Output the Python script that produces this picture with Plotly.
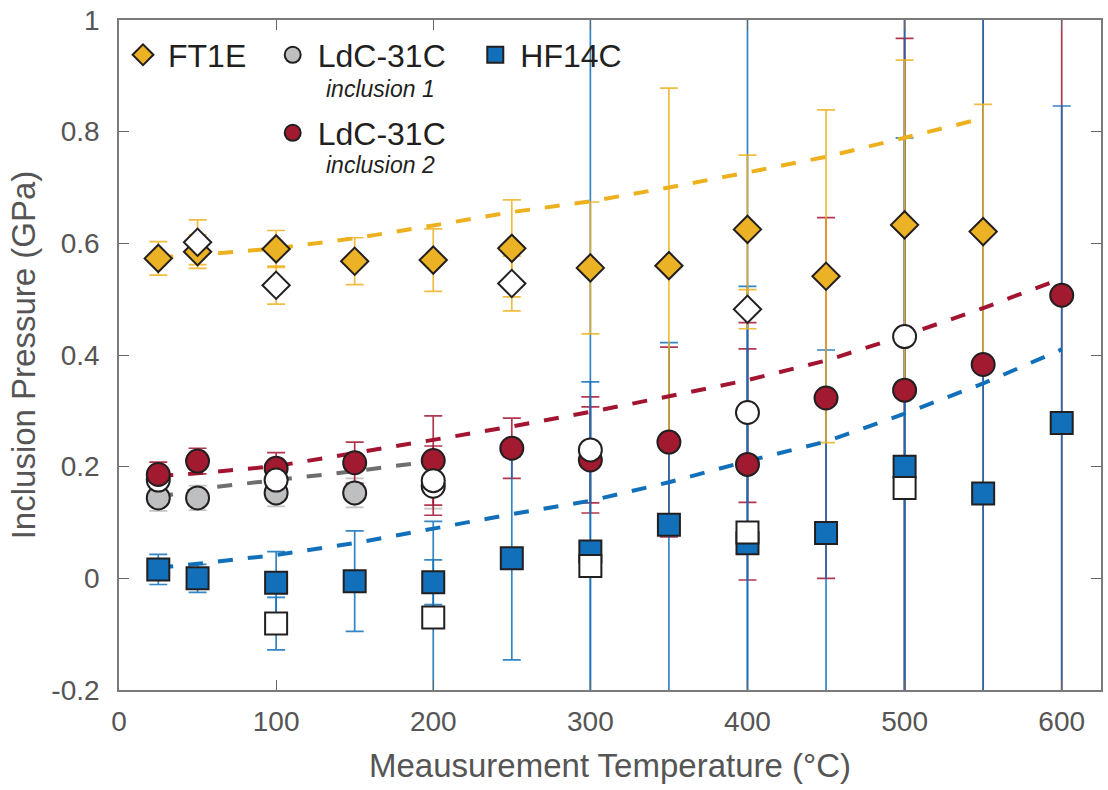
import plotly.graph_objects as go

# ---------------- data ----------------
ft_t = [25, 50, 100, 150, 200, 250, 300, 350, 400, 450, 500, 550]
ft_p = [0.573, 0.585, 0.590, 0.568, 0.570, 0.591, 0.556, 0.560, 0.625, 0.541, 0.633, 0.621]
ft_err = [0.030, 0.030, 0.033, 0.042, 0.056, 0.087, 0.118, 0.318, 0.133, 0.298, 0.295, 0.228]
ft_open_t = [50, 100, 250, 400]
ft_open_p = [0.602, 0.525, 0.528, 0.482]
ft_open_err = [0.040, 0.034, 0.049, 0.035]
ft_fit_t = [25, 50, 100, 150, 200, 250, 300, 350, 400, 450, 500, 550]
ft_fit_p = [0.575, 0.579, 0.591, 0.609, 0.632, 0.656, 0.675, 0.700, 0.727, 0.755, 0.789, 0.824]

g_t = [25, 50, 100, 150]
g_p = [0.144, 0.144, 0.153, 0.153]
g_err = [0.023, 0.022, 0.024, 0.026]
g_open_t = [25, 200]
g_open_p = [0.176, 0.165]
g_open_err = [0.020, 0.040]
g_fit_t = [25, 50, 100, 150, 200]
g_fit_p = [0.145, 0.160, 0.176, 0.192, 0.210]

r_t = [25, 50, 100, 150, 200, 250, 300, 350, 400, 450, 500, 550, 600]
r_p = [0.186, 0.210, 0.197, 0.207, 0.211, 0.233, 0.212, 0.244, 0.204, 0.323, 0.337, 0.383, 0.507]
r_err = [0.022, 0.023, 0.028, 0.037, 0.080, 0.054, 0.095, 0.170, 0.207, 0.323, 0.630, 0.700, 0.750]
r_open_t = [100, 200, 300, 400, 500]
r_open_p = [0.176, 0.175, 0.230, 0.297, 0.433]
r_open_err = [0.030, 0.062, 0.095, 0.161, 0.700]
r_fit_t = [25, 50, 100, 150, 200, 250, 300, 350, 400, 450, 500, 550, 600]
r_fit_p = [0.183, 0.188, 0.201, 0.224, 0.248, 0.272, 0.298, 0.326, 0.355, 0.390, 0.435, 0.484, 0.537]

b_t = [25, 50, 100, 150, 200, 250, 300, 350, 400, 450, 500, 550, 600]
b_p = [0.016, 0.000, -0.008, -0.005, -0.007, 0.036, 0.048, 0.096, 0.063, 0.081, 0.200, 0.152, 0.278]
b_err = [0.027, 0.025, 0.056, 0.090, 0.040, 0.182, 0.304, 0.326, 0.460, 0.328, 0.589, 0.900, 0.568]
b_open_t = [100, 200, 300, 400, 500]
b_open_p = [-0.081, -0.070, 0.022, 0.082, 0.162]
b_open_err = [0.047, 0.172, 1.200, 1.000, 1.000]
b_fit_t = [25, 50, 100, 150, 200, 250, 300, 350, 400, 450, 500, 550, 600]
b_fit_p = [0.019, 0.026, 0.042, 0.063, 0.089, 0.115, 0.139, 0.172, 0.210, 0.245, 0.295, 0.349, 0.410]

x_ticks = [0, 100, 200, 300, 400, 500, 600]
y_ticks = [-0.2, 0, 0.2, 0.4, 0.6, 0.8, 1]
y_ticktext = ["-0.2", "0", "0.2", "0.4", "0.6", "0.8", "1"]

# ---------------- styles ----------------
YEL = "#EDB120"
YEL_ERR = "rgba(237,177,32,0.85)"
YEL_FILL = "#EBB225"
RED = "#A2142F"
RED_ERR = "rgba(162,20,47,0.85)"
RED_FILL = "#A21A30"
GRAY_FILL = "#BEBFC1"
GRAY_ERR = "#C4C4C4"
GRAY_FIT = "#6E6E6E"
BLUE = "#1170B9"
BLUE_ERR = "rgba(17,112,185,0.85)"
EDGE = "#231F20"
FONT = "Liberation Sans, Arial, Helvetica, sans-serif"

fig = go.Figure()


def err_trace(x, y, e, color):
    fig.add_trace(go.Scatter(
        x=x, y=y, mode="markers",
        marker=dict(size=2, opacity=0),
        error_y=dict(type="data", array=e, color=color, thickness=1.7, width=9),
        hoverinfo="skip", showlegend=False))


def fit_trace(x, y, color):
    fig.add_trace(go.Scatter(
        x=x, y=y, mode="lines",
        line=dict(color=color, width=4, dash="15px,15px"),
        hoverinfo="skip", showlegend=False))


def mk_trace(x, y, symbol, size, fill, name=None, legend=None):
    fig.add_trace(go.Scatter(
        x=x, y=y, mode="markers", name=name,
        marker=dict(symbol=symbol, size=size, color=fill,
                    line=dict(color=EDGE, width=2)),
        showlegend=name is not None,
        legend=legend if legend else "legend"))


# error bars (drawing order matters for overlaps)
err_trace(g_t, g_p, g_err, GRAY_ERR)
err_trace(g_open_t, g_open_p, g_open_err, GRAY_ERR)
err_trace(r_t, r_p, r_err, RED_ERR)
err_trace(r_open_t, r_open_p, r_open_err, RED_ERR)
err_trace(b_t, b_p, b_err, BLUE_ERR)
err_trace(b_open_t, b_open_p, b_open_err, BLUE_ERR)
err_trace(ft_t, ft_p, ft_err, YEL_ERR)
err_trace(ft_open_t, ft_open_p, ft_open_err, YEL_ERR)

# fits
fit_trace(b_fit_t, b_fit_p, BLUE)
fit_trace(g_fit_t, g_fit_p, GRAY_FIT)
fit_trace(r_fit_t, r_fit_p, RED)
fit_trace(ft_fit_t, ft_fit_p, YEL)

# markers
mk_trace(b_t, b_p, "square", 22, BLUE, "HF14C", "legend3")
mk_trace(b_open_t, b_open_p, "square", 22, "white")
mk_trace(g_t, g_p, "circle", 23, GRAY_FILL, "LdC-31C", "legend2")
mk_trace(g_open_t, g_open_p, "circle", 23, "white")
mk_trace(r_t, r_p, "circle", 23, RED_FILL, "LdC-31C", "legend4")
mk_trace(r_open_t, r_open_p, "circle", 23, "white")
mk_trace(ft_t, ft_p, "diamond", 21, YEL_FILL, "FT1E", "legend")
mk_trace(ft_open_t, ft_open_p, "diamond", 21, "white")

L, R, T, B = 119, 5, 20, 100
W, H = 1108, 790
pw, ph = W - L - R, H - T - B


def px2x(px):
    return (px - L) / pw


def py2y(py):
    return 1 - (py - T) / ph


leg_common = dict(bgcolor="rgba(0,0,0,0)", borderwidth=0, xanchor="left",
                  yanchor="middle", font=dict(size=32, color=EDGE, family=FONT),
                  itemsizing="trace", itemwidth=40)

fig.update_layout(
    width=W, height=H,
    margin=dict(l=L, r=R, t=T, b=B),
    plot_bgcolor="white", paper_bgcolor="white",
    font=dict(family=FONT, color="#555555"),
    legend=dict(x=px2x(118), y=py2y(55), **leg_common),
    legend2=dict(x=px2x(268), y=py2y(55), **leg_common),
    legend3=dict(x=px2x(471), y=py2y(55), **leg_common),
    legend4=dict(x=px2x(268), y=py2y(133), **leg_common),
    xaxis=dict(range=[0, 625], tickvals=x_ticks, ticks="inside", ticklen=10,
               tickwidth=1.3, tickcolor="#666", linecolor="#7a7a7a", linewidth=1.6,
               mirror="ticks", showgrid=False, zeroline=False,
               tickfont=dict(size=28, color="#555555"), ticklabelstandoff=6,
               title=dict(text="Meausurement Temperature (°C)",
                          font=dict(size=33, color="#555555"), standoff=17)),
    yaxis=dict(range=[-0.2, 1], tickvals=y_ticks, ticktext=y_ticktext,
               ticks="inside", ticklen=10, tickwidth=1.3, tickcolor="#666",
               linecolor="#7a7a7a", linewidth=1.6, mirror="ticks",
               showgrid=False, zeroline=False,
               tickfont=dict(size=28, color="#555555"), ticklabelstandoff=12,
               title=dict(text="Inclusion Pressure (GPa)",
                          font=dict(size=33, color="#555555"), standoff=6)),
)

fig.add_annotation(x=px2x(381), y=py2y(89), xref="paper", yref="paper",
                   xanchor="center", yanchor="middle",
                   text="<i>inclusion 1</i>", showarrow=False,
                   font=dict(size=23, color="#231F20", family=FONT))
fig.add_annotation(x=px2x(381), y=py2y(165), xref="paper", yref="paper",
                   xanchor="center", yanchor="middle",
                   text="<i>inclusion 2</i>", showarrow=False,
                   font=dict(size=23, color="#231F20", family=FONT))

fig.write_html("out.html")
